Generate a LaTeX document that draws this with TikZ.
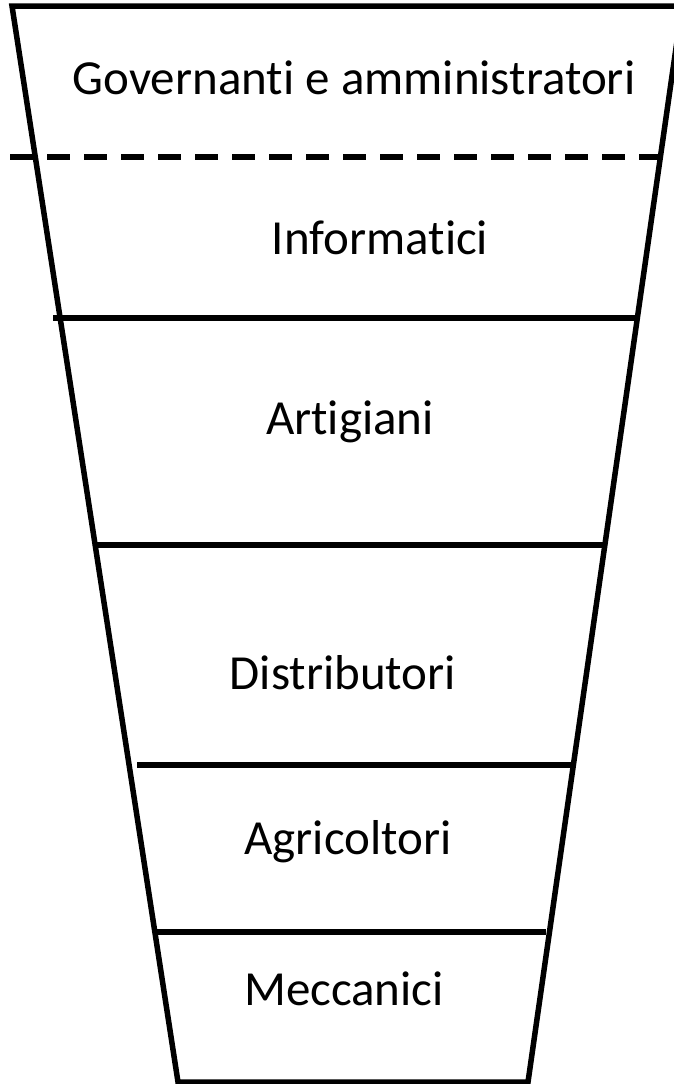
\documentclass[tikz,border=0pt]{standalone}
\usepackage{fontspec}
\setmainfont{Carlito}[Ligatures=NoCommon]
\usetikzlibrary{positioning}

\begin{document}
\begin{tikzpicture}[x=1pt,y=-1pt,
    layer/.style={anchor=base,font=\fontsize{49}{58}\selectfont},
    rim/.style={line width=5.5pt,line join=miter},
    divider/.style={line width=5.5pt},
    cut/.style={line width=5.5pt,dash pattern=on 23pt off 14pt,dash phase=-10pt}]
  \useasboundingbox (0,0) rectangle (673,1084);

  % funnel corners
  \coordinate (tl) at (12,6);
  \coordinate (tr) at (682,6);
  \coordinate (br) at (528,1082);
  \coordinate (bl) at (178,1082);
  \draw[rim] (tr) -- (tl) -- (bl) -- (br) -- cycle;

  % dividers
  \coordinate (cutL) at (0,157);
  \coordinate (cutR) at (673,157);
  \draw[cut] (cutL) -- (cutR);
  \coordinate (d1l) at (53,318);  \coordinate (d1r) at (637,318);
  \coordinate (d2l) at (93,545);  \coordinate (d2r) at (604,545);
  \coordinate (d3l) at (137,765); \coordinate (d3r) at (572,765);
  \coordinate (d4l) at (154,932); \coordinate (d4r) at (546,932);
  \draw[divider] (d1l) -- (d1r);
  \draw[divider] (d2l) -- (d2r);
  \draw[divider] (d3l) -- (d3r);
  \draw[divider] (d4l) -- (d4r);

  % labels
  \node (gov) at (354,94) [layer] {Governanti e amministratori};
  \node (info) at (380,254) [layer] {Informatici};
  \node (arti) at (350,434) [layer] {Artigiani};
  \node (dist) at (343,689) [layer] {Distributori};
  \node (agri) at (348,854) [layer] {Agricoltori};
  \node (mecc) at (344,1005) [layer] {Meccanici};
\end{tikzpicture}
\end{document}
